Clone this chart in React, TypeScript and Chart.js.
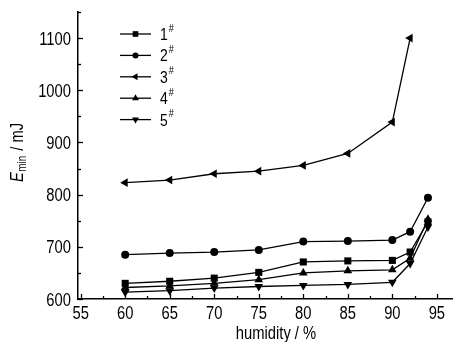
import React, { useEffect, useRef } from "react";
import { Chart, registerables } from "chart.js";

Chart.register(...registerables);

const humidity = [60, 65, 70, 75, 80, 85, 90, 92, 94];
const seriesLabels = ["1", "2", "3", "4", "5"];
const s1 = [630, 634, 640, 651, 671, 673, 674, 690, 748];
const s2 = [685, 688, 690, 694, 710, 711, 713, 729, 794];
const s3 = [823, 828, 840, 845, 856, 879, 939, 1100];
const s4 = [622, 625, 630, 637, 650, 654, 656, 678, 753];
const s5 = [613, 616, 621, 624, 626, 628, 632, 668, 738];
const xTicks = [55, 60, 65, 70, 75, 80, 85, 90, 95];
const yTicks = [600, 700, 800, 900, 1000, 1100];

const FONT = "'Liberation Sans', Arial, sans-serif";
const SQ = 0.82; // horizontal condensing of the narrow face

const styles = [
  { pointStyle: "rect", rotation: 0, radius: 5 },
  { pointStyle: "circle", rotation: 0, radius: 4 },
  { pointStyle: "triangle", rotation: -90, radius: 5 },
  { pointStyle: "triangle", rotation: 0, radius: 5 },
  { pointStyle: "triangle", rotation: 180, radius: 5 },
];

function drawMarker(ctx: CanvasRenderingContext2D, style: string, rot: number, r: number, x: number, y: number) {
  ctx.save();
  ctx.fillStyle = "#000";
  ctx.beginPath();
  if (style === "rect") {
    const s = Math.SQRT1_2 * r;
    ctx.rect(x - s, y - s, 2 * s, 2 * s);
  } else if (style === "circle") {
    ctx.arc(x, y, r, 0, Math.PI * 2);
  } else {
    let a = (rot * Math.PI) / 180;
    ctx.moveTo(x + Math.sin(a) * r, y - Math.cos(a) * r);
    a += (2 * Math.PI) / 3;
    ctx.lineTo(x + Math.sin(a) * r, y - Math.cos(a) * r);
    a += (2 * Math.PI) / 3;
    ctx.lineTo(x + Math.sin(a) * r, y - Math.cos(a) * r);
    ctx.closePath();
  }
  ctx.fill();
  ctx.restore();
}

function narrowText(ctx: CanvasRenderingContext2D, text: string, x: number, y: number, font: string, align: CanvasTextAlign) {
  ctx.save();
  ctx.translate(x, y);
  ctx.scale(SQ, 1);
  ctx.font = font;
  ctx.textAlign = align;
  ctx.textBaseline = "alphabetic";
  ctx.fillStyle = "#000";
  ctx.fillText(text, 0, 0);
  const w = ctx.measureText(text).width * SQ;
  ctx.restore();
  return w;
}

const overlay = {
  id: "overlay",
  afterDraw(chart: any) {
    const ctx: CanvasRenderingContext2D = chart.ctx;
    const xs = chart.scales.x;
    const ys = chart.scales.y;
    const area = chart.chartArea;
    ctx.save();
    ctx.strokeStyle = "#000";
    ctx.lineWidth = 1.3;
    // y ticks (inside) and labels
    for (let v = 600; v <= 1150; v += 50) {
      const py = Math.round(ys.getPixelForValue(v)) + 0.5;
      const len = v % 100 === 0 ? 5 : 3;
      ctx.beginPath();
      ctx.moveTo(area.left, py);
      ctx.lineTo(area.left + len, py);
      ctx.stroke();
    }
    for (const v of yTicks) {
      const py = ys.getPixelForValue(v);
      narrowText(ctx, String(v), 71, py + 6.5, `18px ${FONT}`, "right");
    }
    // x ticks (inside) and labels
    for (let v = 55; v <= 96.7; v += 2.5) {
      const px = Math.round(xs.getPixelForValue(v)) + 0.5;
      const len = v % 5 === 0 ? 5 : 3;
      ctx.beginPath();
      ctx.moveTo(px, area.bottom);
      ctx.lineTo(px, area.bottom - len);
      ctx.stroke();
    }
    for (const v of xTicks) {
      const px = xs.getPixelForValue(v);
      narrowText(ctx, String(v), px, 319, `18px ${FONT}`, "center");
    }
    // legend
    const lx0 = 120, lx1 = 151, mx = 135.5;
    for (let i = 0; i < seriesLabels.length; i++) {
      const y = 34 + i * 21.4;
      ctx.lineWidth = 1.3;
      ctx.beginPath();
      ctx.moveTo(lx0, y);
      ctx.lineTo(lx1, y);
      ctx.stroke();
      const st = styles[i];
      drawMarker(ctx, st.pointStyle, st.rotation, st.radius - 1, mx, y);
      const w = narrowText(ctx, seriesLabels[i], 160, y + 6, `17px ${FONT}`, "left");
      narrowText(ctx, "#", 160 + w + 1, y - 2.5, `11px ${FONT}`, "left");
    }
    // x title
    narrowText(ctx, "humidity / %", 276, 339, `18px ${FONT}`, "center");
    // y title
    ctx.save();
    ctx.translate(23, 182);
    ctx.rotate(-Math.PI / 2);
    let off = narrowText(ctx, "E", 0, 0, `italic 18px ${FONT}`, "left") + 0.5;
    off += narrowText(ctx, "min", off, 3, `12px ${FONT}`, "left") + 1;
    narrowText(ctx, " / mJ", off, 0, `18px ${FONT}`, "left");
    ctx.restore();
    ctx.restore();
  },
};

export default function App() {
  const ref = useRef<HTMLCanvasElement | null>(null);
  useEffect(() => {
    document.body.style.margin = "0";
    if (!ref.current) return;
    const all = [s1, s2, s3, s4, s5];
    const datasets = all.map((arr, i) => ({
      label: seriesLabels[i] + "#",
      data: arr.map((v, j) => ({ x: humidity[j], y: v })),
      borderColor: "#000",
      backgroundColor: "#000",
      borderWidth: 1.3,
      pointStyle: styles[i].pointStyle as any,
      pointRotation: styles[i].rotation,
      pointRadius: styles[i].radius,
      pointBorderWidth: 0,
      tension: 0,
    }));
    const chart = new Chart(ref.current, {
      type: "line",
      data: { datasets },
      plugins: [overlay],
      options: {
        animation: false,
        responsive: false,
        maintainAspectRatio: false,
        layout: { padding: { top: 12, right: 0, left: 0, bottom: 0 } },
        plugins: { legend: { display: false }, tooltip: { enabled: false } },
        scales: {
          x: {
            type: "linear",
            min: 54.7,
            max: 96.7,
            grid: { display: false, drawTicks: false },
            border: { display: true, color: "#000", width: 1.5 },
            afterBuildTicks: (s: any) => {
              s.ticks = xTicks.map((v) => ({ value: v }));
            },
            afterFit: (s: any) => {
              s.height = 43;
            },
            ticks: { display: false },
          },
          y: {
            min: 600,
            max: 1150,
            grid: { display: false, drawTicks: false },
            border: { display: true, color: "#000", width: 1.5 },
            afterBuildTicks: (s: any) => {
              s.ticks = yTicks.map((v) => ({ value: v }));
            },
            afterFit: (s: any) => {
              s.width = 78;
            },
            ticks: { display: false },
          },
        },
      },
    });
    return () => chart.destroy();
  }, []);
  return (
    <div style={{ width: 457, height: 342, background: "#fff" }}>
      <canvas ref={ref} width={457} height={342} style={{ display: "block" }} />
    </div>
  );
}
